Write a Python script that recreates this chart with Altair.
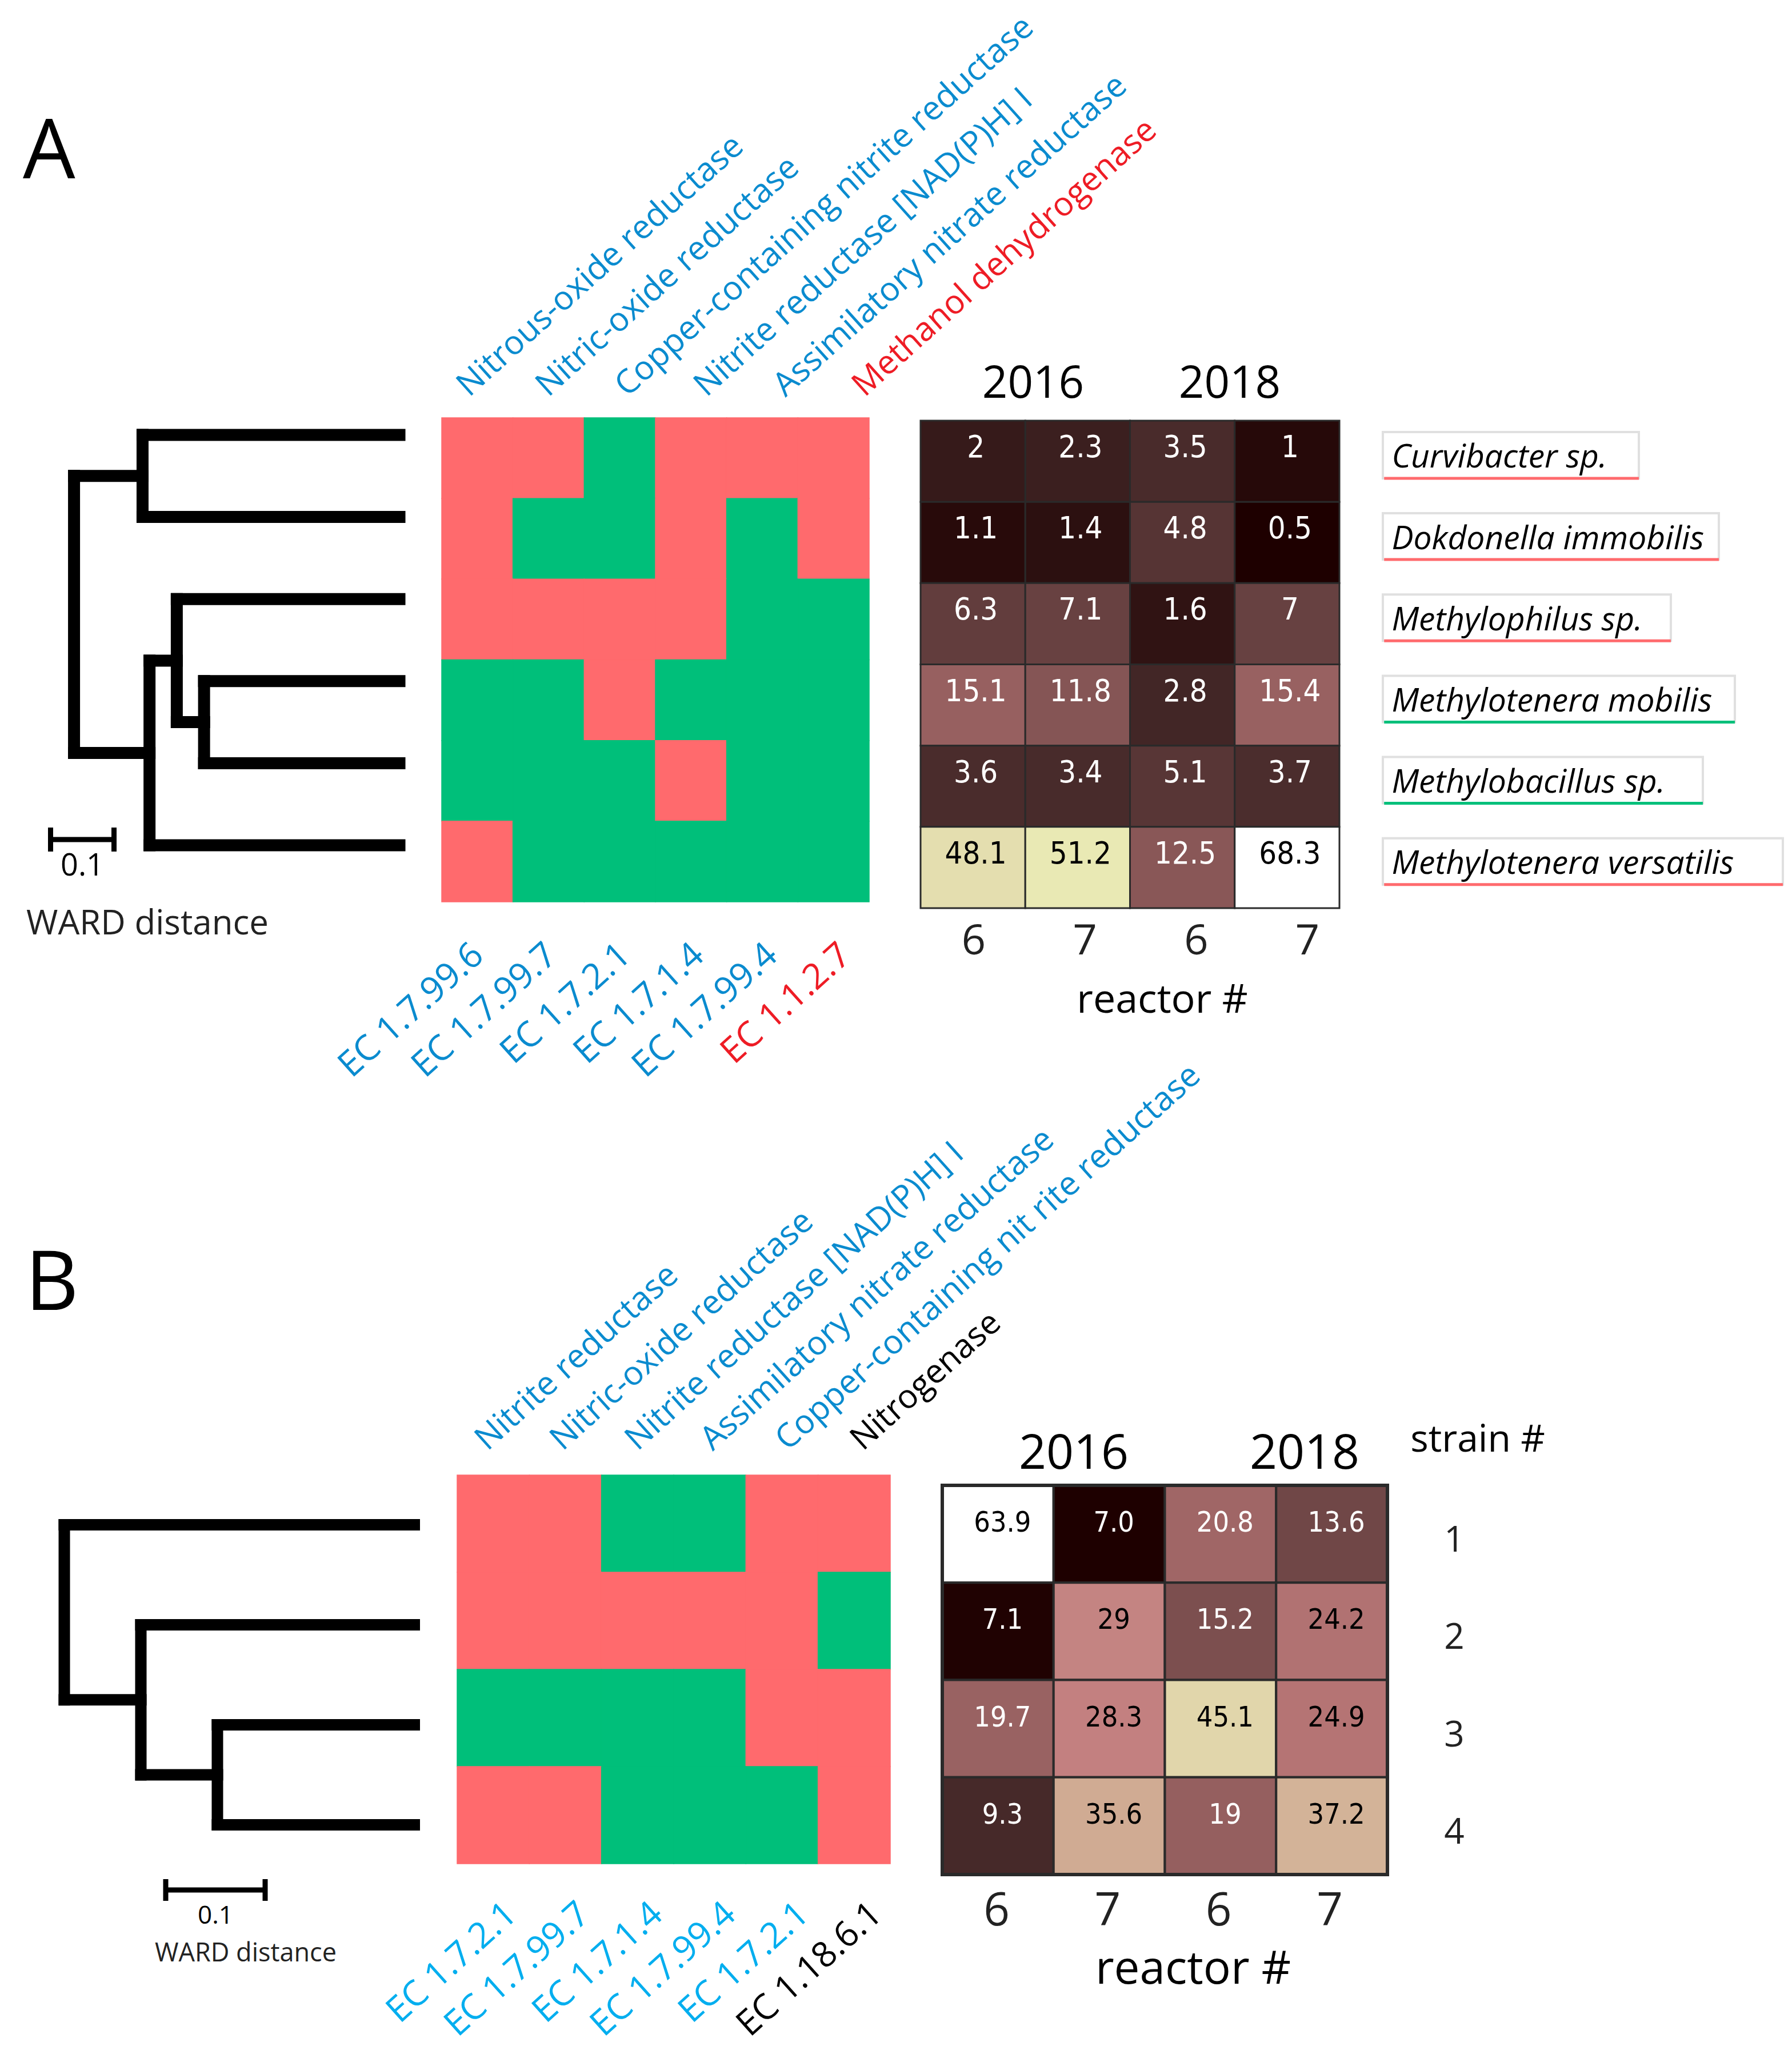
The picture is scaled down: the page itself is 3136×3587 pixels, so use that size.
import math
import altair as alt
import pandas as pd

# ----------------------------- data -----------------------------
A_ENZYMES = ["Nitrous-oxide reductase", "Nitric-oxide reductase",
             "Copper-containing nitrite reductase", "Nitrite reductase [NAD(P)H] I",
             "Assimilatory nitrate reductase", "Methanol dehydrogenase"]
A_ENZYME_CLASS = ["nitrogen", "nitrogen", "nitrogen", "nitrogen", "nitrogen", "methanol"]
A_EC = ["EC 1.7.99.6", "EC 1.7.99.7", "EC 1.7.2.1", "EC 1.7.1.4", "EC 1.7.99.4", "EC 1.1.2.7"]
A_SPECIES = ["Curvibacter sp.", "Dokdonella immobilis", "Methylophilus sp.",
             "Methylotenera mobilis", "Methylobacillus sp.", "Methylotenera versatilis"]
A_SPECIES_LINE = ["absent", "absent", "absent", "present", "present", "absent"]
# 1 = gene present (green), 0 = absent (pink); rows = species, cols = enzymes
A_PRESENCE = [
    [0, 0, 1, 0, 0, 0],
    [0, 1, 1, 0, 1, 0],
    [0, 0, 0, 0, 1, 1],
    [1, 1, 0, 1, 1, 1],
    [1, 1, 1, 0, 1, 1],
    [0, 1, 1, 1, 1, 1],
]
A_ABUNDANCE = [
    ["2", "2.3", "3.5", "1"],
    ["1.1", "1.4", "4.8", "0.5"],
    ["6.3", "7.1", "1.6", "7"],
    ["15.1", "11.8", "2.8", "15.4"],
    ["3.6", "3.4", "5.1", "3.7"],
    ["48.1", "51.2", "12.5", "68.3"],
]
# WARD linkage: (child a, child b, merge distance); leaves 0..5 top to bottom
A_MERGES = [(0, 1, 0.405), (3, 4, 0.308), (2, 7, 0.351), (8, 5, 0.394), (6, 9, 0.513)]

B_ENZYMES = ["Nitrite reductase", "Nitric-oxide reductase", "Nitrite reductase [NAD(P)H] I",
             "Assimilatory nitrate reductase", "Copper-containing nit rite reductase", "Nitrogenase"]
B_ENZYME_CLASS = ["nitrogen", "nitrogen", "nitrogen", "nitrogen", "nitrogen", "fixation"]
B_EC = ["EC 1.7.2.1", "EC 1.7.99.7", "EC 1.7.1.4", "EC 1.7.99.4", "EC 1.7.2.1", "EC 1.18.6.1"]
B_STRAINS = ["1", "2", "3", "4"]
B_PRESENCE = [
    [0, 0, 1, 1, 0, 0],
    [0, 0, 0, 0, 0, 1],
    [1, 1, 1, 1, 0, 0],
    [0, 0, 1, 1, 1, 0],
]
B_ABUNDANCE = [
    ["63.9", "7.0", "20.8", "13.6"],
    ["7.1", "29", "15.2", "24.2"],
    ["19.7", "28.3", "45.1", "24.9"],
    ["9.3", "35.6", "19", "37.2"],
]
B_MERGES = [(2, 3, 0.198), (1, 4, 0.275), (0, 5, 0.352)]

YEARS = ["2016", "2018"]
REACTORS = ["6", "7", "6", "7"]
SCALE_BAR_LENGTH = 0.1

# ----------------------------- style -----------------------------
FONT = "Open Sans"
NARROW = "Liberation Sans Narrow, Arial Narrow, DejaVu Sans Condensed, Open Sans"
BLUE = "#0A8BCF"
CYAN = "#00AEEF"
RED = "#EE1C25"
PINK = "#FF6A6D"
GREEN = "#00BF7A"


def px(v):
    """page pixel -> chart pixel (page has an 8px margin)"""
    return v - 8


def span(n, a, b):
    """ordinal slot scale: slots 0..n-1 spread between page pixels a and b"""
    return alt.Scale(domain=[0, n - 1], range=[px(a), px(b)], nice=False, zero=False)


def pink_colormap(n=33):
    cols = []
    for k in range(n):
        t = k / (n - 1)
        hot = (min(1.0, t * 8 / 3 + 1 / 24),
               min(1.0, max(0.0, (t - 3 / 8) * 8 / 3)),
               min(1.0, max(0.0, (t - 3 / 4) * 4)))
        rgb = [math.sqrt((2 * t + h) / 3) for h in hot]
        cols.append("#%02x%02x%02x" % tuple(int(round(255 * min(1, c))) for c in rgb))
    return cols


PINK_RANGE = pink_colormap()


def pink_scale(vals):
    lo, hi = min(vals), max(vals)
    n = len(PINK_RANGE)
    dom = [lo + (hi - lo) * k / (n - 1) for k in range(n)]
    return alt.Scale(domain=dom, range=PINK_RANGE, interpolate="rgb")


def dendro_segments(n_leaves, merges):
    pos = {i: float(i) for i in range(n_leaves)}
    hgt = {i: 0.0 for i in range(n_leaves)}
    segs = []
    nid = n_leaves
    for a, b, h in merges:
        segs.append(dict(x=h, x2=h, y=pos[a], y2=pos[b]))
        segs.append(dict(x=hgt[a], x2=h, y=pos[a], y2=pos[a]))
        segs.append(dict(x=hgt[b], x2=h, y=pos[b], y2=pos[b]))
        pos[nid] = (pos[a] + pos[b]) / 2
        hgt[nid] = h
        nid += 1
    return pd.DataFrame(segs)


def presence_frame(mat):
    rows = []
    for r, row in enumerate(mat):
        for c, v in enumerate(row):
            rows.append(dict(r=r, c=c, state="present" if v else "absent"))
    return pd.DataFrame(rows)


def abundance_frame(mat):
    rows = []
    for r, row in enumerate(mat):
        for c, lab in enumerate(row):
            rows.append(dict(r=r, c=c, label=lab, v=float(lab)))
    return pd.DataFrame(rows)


BIN_COLOR = alt.Scale(domain=["absent", "present"], range=[PINK, GREEN])


def text_chart(t):
    return alt.Chart(pd.DataFrame({"t": [t]}))


def panel(cfg):
    L = []
    ncol, nrow = cfg["ncol"], cfg["nrow"]
    xb = alt.Scale(domain=[0, ncol], range=[px(cfg["bin_x"][0]), px(cfg["bin_x"][1])], nice=False, zero=False)
    yb = alt.Scale(domain=[0, nrow], range=[px(cfg["bin_y"][0]), px(cfg["bin_y"][1])], nice=False, zero=False)
    xh = alt.Scale(domain=[0, 4], range=[px(cfg["heat_x"][0]), px(cfg["heat_x"][1])], nice=False, zero=False)
    yh = alt.Scale(domain=[0, nrow], range=[px(cfg["heat_y"][0]), px(cfg["heat_y"][1])], nice=False, zero=False)
    x0, unit = cfg["leaf_x"], cfg["unit"]
    xd = alt.Scale(domain=[0, 1], range=[px(x0), px(x0 - unit)], nice=False, zero=False)
    yd = alt.Scale(domain=[0, nrow - 1], range=[px(cfg["leaf_y"][0]), px(cfg["leaf_y"][1])], nice=False, zero=False)

    # panel letter
    L.append(text_chart(cfg["letter"]).mark_text(font=FONT, fontSize=145, align="left", baseline="alphabetic")
             .encode(x=alt.value(px(cfg["letter_pos"][0])), y=alt.value(px(cfg["letter_pos"][1])), text="t:N"))

    # enzyme names on top
    top = pd.DataFrame({"label": cfg["enzymes"], "cls": cfg["enz_class"], "i": range(ncol)})
    L.append(alt.Chart(top)
             .mark_text(angle=318, align="left", baseline="alphabetic", font=FONT, fontSize=58)
             .encode(x=alt.X("i:Q", scale=span(ncol, *cfg["top_span"]), axis=None),
                     y=alt.value(px(cfg["top_y"])), text="label:N",
                     color=alt.Color("cls:N", scale=alt.Scale(domain=["nitrogen", "methanol", "fixation"],
                                                              range=[BLUE, RED, "black"]), legend=None)))
    # EC numbers below
    bot = pd.DataFrame({"label": cfg["ec"], "cls": cfg["enz_class"], "i": range(ncol)})
    L.append(alt.Chart(bot)
             .mark_text(angle=318, align="right", baseline="top", font=FONT, fontSize=62)
             .encode(x=alt.X("i:Q", scale=span(ncol, *cfg["ec_span"]), axis=None),
                     y=alt.value(px(cfg["ec_y"])), text="label:N",
                     color=alt.Color("cls:N", scale=alt.Scale(domain=["nitrogen", "methanol", "fixation"],
                                                              range=[cfg["ec_blue"], RED, "black"]), legend=None)))

    # presence / absence matrix
    L.append(alt.Chart(presence_frame(cfg["presence"]))
             .transform_calculate(c2="datum.c + 1", r2="datum.r + 1")
             .mark_rect(strokeWidth=1.5)
             .encode(x=alt.X("c:Q", scale=xb, axis=None), x2="c2:Q",
                     y=alt.Y("r:Q", scale=yb, axis=None), y2="r2:Q",
                     color=alt.Color("state:N", scale=BIN_COLOR, legend=None),
                     stroke=alt.Stroke("state:N", scale=BIN_COLOR, legend=None)))

    # dendrogram
    L.append(alt.Chart(dendro_segments(nrow, cfg["merges"]))
             .mark_rule(strokeWidth=cfg["dend_w"], strokeCap="square", color="black")
             .encode(x=alt.X("x:Q", scale=xd, axis=None), x2="x2:Q",
                     y=alt.Y("y:Q", scale=yd, axis=None), y2="y2:Q"))
    # scale bar
    s0 = cfg["bar_start"]
    bar = pd.DataFrame({"a": [s0], "b": [s0 - SCALE_BAR_LENGTH]})
    L.append(alt.Chart(bar).mark_rule(strokeWidth=9, color="black")
             .encode(x=alt.X("a:Q", scale=xd, axis=None), x2="b:Q", y=alt.value(px(cfg["bar_y"]))))
    caps = pd.DataFrame({"a": [s0, s0 - SCALE_BAR_LENGTH]})
    L.append(alt.Chart(caps).mark_rule(strokeWidth=9, color="black")
             .encode(x=alt.X("a:Q", scale=xd, axis=None),
                     y=alt.value(px(cfg["bar_y"] - cfg["cap"])), y2=alt.value(px(cfg["bar_y"] + cfg["cap"]))))
    lab = pd.DataFrame({"a": [s0 - SCALE_BAR_LENGTH / 2], "t": [str(SCALE_BAR_LENGTH)]})
    L.append(alt.Chart(lab).mark_text(font=FONT, fontSize=cfg["bar_fs"], align="center", baseline="alphabetic")
             .encode(x=alt.X("a:Q", scale=xd, axis=None), y=alt.value(px(cfg["bar_text_y"])), text="t:N"))
    L.append(text_chart("WARD distance").mark_text(font=FONT, fontSize=cfg["ward_fs"], align="left",
                                                   baseline="alphabetic", color="#222222")
             .encode(x=alt.value(px(cfg["ward_pos"][0])), y=alt.value(px(cfg["ward_pos"][1])), text="t:N"))

    # abundance heatmap
    ab = abundance_frame(cfg["abund"])
    L.append(alt.Chart(ab).transform_calculate(c2="datum.c + 1", r2="datum.r + 1")
             .mark_rect(stroke="#2a2a2a", strokeWidth=cfg["cell_w"])
             .encode(x=alt.X("c:Q", scale=xh, axis=None), x2="c2:Q",
                     y=alt.Y("r:Q", scale=yh, axis=None), y2="r2:Q",
                     color=alt.Color("v:Q", scale=pink_scale(ab["v"].tolist()), legend=None)))
    if cfg["outer_w"]:
        L.append(alt.Chart(pd.DataFrame({"a": [0], "b": [4], "c": [0], "d": [nrow]}))
                 .mark_rect(fillOpacity=0, stroke="#2a2a2a", strokeWidth=cfg["outer_w"])
                 .encode(x=alt.X("a:Q", scale=xh, axis=None), x2="b:Q",
                         y=alt.Y("c:Q", scale=yh, axis=None), y2="d:Q"))
    L.append(alt.Chart(ab).transform_calculate(cx="datum.c + 0.5", ry="datum.r + 0.5")
             .mark_text(font=NARROW, fontSize=cfg["num_fs"], baseline="middle", align="center",
                        dy=cfg["num_dy"], dx=cfg["num_dx"])
             .encode(x=alt.X("cx:Q", scale=xh, axis=None), y=alt.Y("ry:Q", scale=yh, axis=None),
                     text="label:N",
                     color=alt.condition("datum.v > 21", alt.value("black"), alt.value("white"))))
    # years
    yrs = pd.DataFrame({"t": YEARS, "g": [0, 1]})
    L.append(alt.Chart(yrs)
             .mark_text(font=FONT, fontSize=cfg["year_fs"], align="center", baseline="alphabetic")
             .encode(x=alt.X("g:Q", scale=span(2, *cfg["year_span"]), axis=None),
                     y=alt.value(px(cfg["year_y"])), text="t:N"))
    # reactors
    rea = pd.DataFrame({"t": REACTORS, "i": range(4)})
    L.append(alt.Chart(rea)
             .mark_text(font=FONT, fontSize=cfg["rea_fs"], align="center", baseline="alphabetic", color="#222222")
             .encode(x=alt.X("i:Q", scale=span(4, *cfg["rea_span"]), axis=None),
                     y=alt.value(px(cfg["rea_y"])), text="t:N"))
    L.append(text_chart("reactor #")
             .mark_text(font=FONT, fontSize=cfg["reactor_fs"], align="center", baseline="alphabetic")
             .encode(x=alt.value(px(cfg["reactor_x"])), y=alt.value(px(cfg["reactor_y"])), text="t:N"))
    return L, yh


# ----------------------------- panel A -----------------------------
cfgA = dict(letter="A", letter_pos=(40, 312), enzymes=A_ENZYMES, enz_class=A_ENZYME_CLASS, ec=A_EC,
            ncol=6, nrow=6, presence=A_PRESENCE, abund=A_ABUNDANCE, merges=A_MERGES,
            bin_x=(773, 1521), bin_y=(731, 1578), heat_x=(1611, 2344), heat_y=(736, 1589),
            leaf_x=699, unit=1110, leaf_y=(761, 1479), dend_w=21,
            top_y=696, top_span=(821, 1513), ec_y=1640, ec_span=(817, 1460), ec_blue=BLUE,
            bar_start=0.55, bar_y=1469, cap=21, bar_text_y=1532, bar_fs=54,
            ward_fs=60, ward_pos=(46, 1635),
            cell_w=3, outer_w=0, num_fs=54, num_dy=-23, num_dx=5,
            year_fs=78, year_span=(1808, 2152), year_y=696,
            rea_fs=74, rea_span=(1704, 2288), rea_y=1670,
            reactor_fs=70, reactor_x=2034, reactor_y=1772)
layersA, yhA = panel(cfgA)

# species boxes (panel A)
xs = alt.Scale(domain=[0, 25], range=[px(2420), px(2420 + 25 * 28)], nice=False, zero=False)
sp = pd.DataFrame({"name": A_SPECIES, "line": A_SPECIES_LINE, "r": range(6)})
spc = alt.Chart(sp).transform_calculate(
    n="length(datum.name) + 1.0", x0="0", xt="0.55", xl="0.08",
    yt="datum.r + 0.14", yb="datum.r + 0.71", ytext="datum.r + 0.58")
layersA.append(spc.mark_rect(fill="white", stroke="#e0e0e0", strokeWidth=4)
               .encode(x=alt.X("x0:Q", scale=xs, axis=None), x2="n:Q",
                       y=alt.Y("yt:Q", scale=yhA, axis=None), y2="yb:Q"))
layersA.append(spc.mark_rule(strokeWidth=5)
               .encode(x=alt.X("xl:Q", scale=xs, axis=None), x2="n:Q",
                       y=alt.Y("yb:Q", scale=yhA, axis=None),
                       color=alt.Color("line:N", scale=BIN_COLOR, legend=None)))
layersA.append(spc.mark_text(font=FONT, fontStyle="italic", fontSize=57, align="left", baseline="alphabetic")
               .encode(x=alt.X("xt:Q", scale=xs, axis=None), y=alt.Y("ytext:Q", scale=yhA, axis=None),
                       text="name:N"))

# ----------------------------- panel B -----------------------------
cfgB = dict(letter="B", letter_pos=(44, 2292), enzymes=B_ENZYMES, enz_class=B_ENZYME_CLASS, ec=B_EC,
            ncol=6, nrow=4, presence=B_PRESENCE, abund=B_ABUNDANCE, merges=B_MERGES,
            bin_x=(800, 1558), bin_y=(2581, 3261), heat_x=(1649, 2428), heat_y=(2599, 3280),
            leaf_x=725, unit=1740, leaf_y=(2668, 3193), dend_w=20,
            top_y=2540, top_span=(853, 1510), ec_y=3318, ec_span=(875, 1514), ec_blue=CYAN,
            bar_start=0.25, bar_y=3307, cap=19, bar_text_y=3366, bar_fs=44,
            ward_fs=45, ward_pos=(271, 3432),
            cell_w=4, outer_w=6, num_fs=50, num_dy=-19, num_dx=8,
            year_fs=84, year_span=(1879, 2283), year_y=2570,
            rea_fs=80, rea_span=(1744, 2327), rea_y=3369,
            reactor_fs=80, reactor_x=2088, reactor_y=3471)
layersB, yhB = panel(cfgB)

strains = pd.DataFrame({"t": B_STRAINS, "r": range(4)})
layersB.append(alt.Chart(strains).transform_calculate(ry="datum.r + 0.57")
               .mark_text(font=FONT, fontSize=62, align="center", baseline="middle", color="#222222")
               .encode(x=alt.value(px(2545)), y=alt.Y("ry:Q", scale=yhB, axis=None), text="t:N"))
layersB.append(text_chart("strain #").mark_text(font=FONT, fontSize=66, align="center", baseline="alphabetic")
               .encode(x=alt.value(px(2586)), y=alt.value(px(2540)), text="t:N"))

chart = (
    alt.layer(*(layersA + layersB))
    .resolve_scale(x="independent", y="independent", color="independent", stroke="independent")
    .properties(width=3120, height=3571, autosize=alt.AutoSizeParams(type="none"), padding=0)
    .configure_view(stroke=None)
)
chart.save("out.html", embed_options={"renderer": "svg", "actions": False})
